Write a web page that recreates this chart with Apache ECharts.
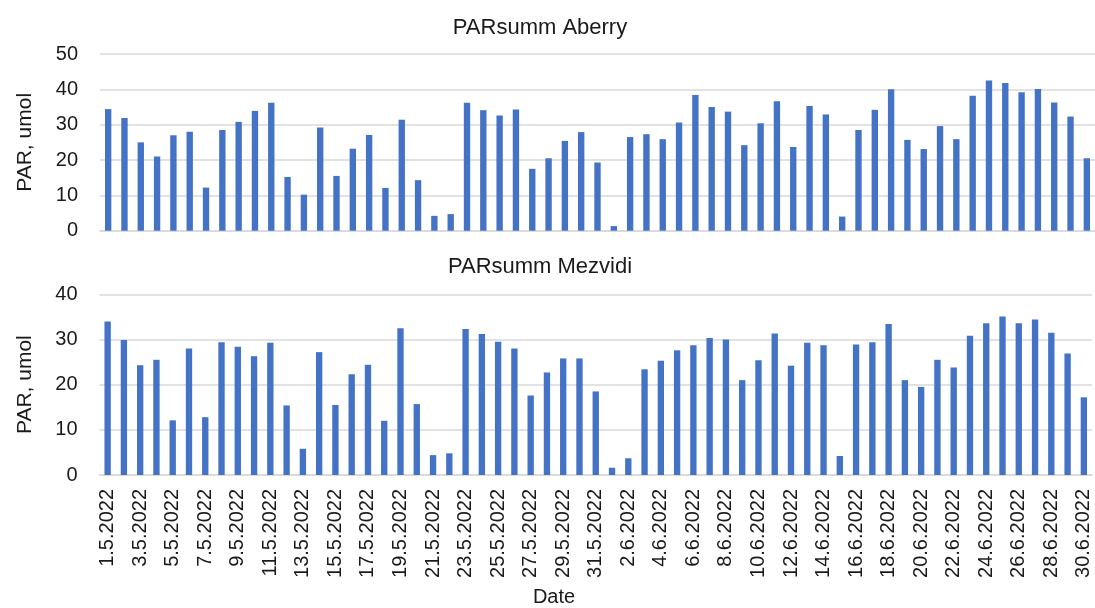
<!DOCTYPE html>
<html>
<head>
<meta charset="utf-8">
<script src="https://cdn.jsdelivr.net/npm/echarts@6/dist/echarts.min.js"></script>
<style>
html,body{margin:0;padding:0;background:#fff;}
#chart{width:1095px;height:608px;}
</style>
</head>
<body>
<div id="chart"></div>
<script>
// Dates 1.5.2022 .. 30.6.2022
const categories = [
  '1.5.2022','2.5.2022','3.5.2022','4.5.2022','5.5.2022','6.5.2022','7.5.2022','8.5.2022','9.5.2022','10.5.2022',
  '11.5.2022','12.5.2022','13.5.2022','14.5.2022','15.5.2022','16.5.2022','17.5.2022','18.5.2022','19.5.2022','20.5.2022',
  '21.5.2022','22.5.2022','23.5.2022','24.5.2022','25.5.2022','26.5.2022','27.5.2022','28.5.2022','29.5.2022','30.5.2022',
  '31.5.2022','1.6.2022','2.6.2022','3.6.2022','4.6.2022','5.6.2022','6.6.2022','7.6.2022','8.6.2022','9.6.2022',
  '10.6.2022','11.6.2022','12.6.2022','13.6.2022','14.6.2022','15.6.2022','16.6.2022','17.6.2022','18.6.2022','19.6.2022',
  '20.6.2022','21.6.2022','22.6.2022','23.6.2022','24.6.2022','25.6.2022','26.6.2022','27.6.2022','28.6.2022','29.6.2022',
  '30.6.2022'
];

const aberry = [
  34.4, 31.9, 25.0, 21.0, 27.0, 28.0, 12.2, 28.5, 30.8, 33.9,
  36.2, 15.2, 10.2, 29.2, 15.5, 23.2, 27.1, 12.1, 31.4, 14.3,
  4.2, 4.7, 36.2, 34.1, 32.6, 34.3, 17.5, 20.5, 25.4, 27.9,
  19.3, 1.3, 26.5, 27.3, 25.9, 30.6, 38.4, 35.0, 33.7, 24.2,
  30.4, 36.6, 23.7, 35.3, 32.9, 4.0, 28.5, 34.2, 40.0, 25.7,
  23.1, 29.6, 25.9, 38.2, 42.5, 41.8, 39.2, 40.1, 36.3, 32.3,
  20.5
];

const mezvidi = [
  34.0, 29.9, 24.3, 25.5, 12.1, 28.0, 12.8, 29.4, 28.4, 26.3,
  29.3, 15.4, 5.8, 27.2, 15.5, 22.3, 24.4, 12.0, 32.5, 15.7,
  4.4, 4.8, 32.3, 31.2, 29.5, 28.0, 17.6, 22.7, 25.8, 25.8,
  18.5, 1.6, 3.7, 23.4, 25.3, 27.6, 28.7, 30.3, 30.0, 21.0,
  25.4, 31.3, 24.2, 29.3, 28.7, 4.2, 28.9, 29.4, 33.4, 21.0,
  19.5, 25.5, 23.8, 30.8, 33.6, 35.1, 33.6, 34.4, 31.5, 26.9,
  17.2
];

const topTicks = {min: 0, max: 50, interval: 10};
const bottomTicks = {min: 0, max: 40, interval: 10};

const FONT = "'Liberation Sans', Arial, sans-serif";
const TEXT = '#1a1a1a';
const GRID = '#d9d9d9';
const BAR = '#4472C4';

const chart = echarts.init(document.getElementById('chart'), null, {renderer: 'canvas'});

function yAxis(idx, ticks) {
  return {
    type: 'value', gridIndex: idx,
    min: ticks.min, max: ticks.max, interval: ticks.interval,
    name: 'PAR, umol', nameLocation: 'middle', nameGap: 64, nameRotate: 90,
    nameTextStyle: {fontFamily: FONT, fontSize: 21, color: TEXT},
    axisLine: {show: false}, axisTick: {show: false},
    axisLabel: {fontFamily: FONT, fontSize: 20, color: TEXT, margin: 22},
    splitLine: {lineStyle: {color: GRID, width: 1.5}}
  };
}

function xAxis(idx, showLabels) {
  return {
    type: 'category', gridIndex: idx, data: categories, boundaryGap: true,
    axisLine: {show: true, lineStyle: {color: GRID, width: 1.5}},
    axisTick: {show: false},
    axisLabel: {show: showLabels, interval: 1, rotate: 90, margin: 14,
      fontFamily: FONT, fontSize: 20, color: TEXT}
  };
}

chart.setOption({
  animation: false,
  backgroundColor: '#fff',
  title: [
    {text: 'PARsumm Aberry', left: 540, top: 17, textAlign: 'center', padding: 0,
      textStyle: {fontFamily: FONT, fontSize: 22, fontWeight: 'normal', color: TEXT}},
    {text: 'PARsumm Mezvidi', left: 540, top: 256, textAlign: 'center', padding: 0,
      textStyle: {fontFamily: FONT, fontSize: 22, fontWeight: 'normal', color: TEXT}},
    {text: 'Date', left: 554, top: 587, textAlign: 'center', padding: 0,
      textStyle: {fontFamily: FONT, fontSize: 20, fontWeight: 'normal', color: TEXT}}
  ],
  grid: [
    {left: 100, top: 54, width: 1001, height: 176.7},
    {left: 99.5, top: 294.3, width: 992.5, height: 180.7}
  ],
  xAxis: [xAxis(0, false), xAxis(1, true)],
  yAxis: [yAxis(0, topTicks), yAxis(1, bottomTicks)],
  series: [
    {type: 'bar', xAxisIndex: 0, yAxisIndex: 0, data: aberry, barWidth: '39%',
      itemStyle: {color: BAR}},
    {type: 'bar', xAxisIndex: 1, yAxisIndex: 1, data: mezvidi, barWidth: '39%',
      itemStyle: {color: BAR}}
  ]
});
</script>
</body>
</html>
